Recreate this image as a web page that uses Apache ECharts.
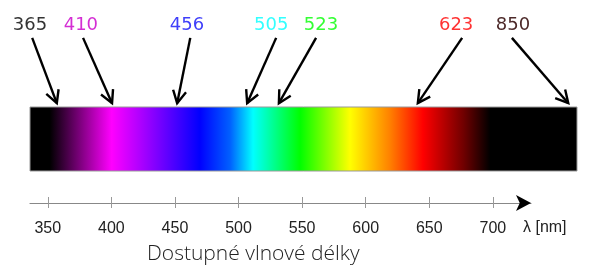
<!DOCTYPE html>
<html>
<head>
<meta charset="utf-8">
<script src="https://cdn.jsdelivr.net/npm/echarts@6/dist/echarts.min.js"></script>
<style>
html,body{margin:0;padding:0;background:#fff;}
#main{width:589px;height:273px;}
</style>
</head>
<body>
<div id="main"></div>
<script>
// wavelengths pointed at (nm) and their colours
var markerNm = [365, 410, 456, 505, 523, 623, 850];
var markerColor = ['#333333', '#d42ed4', '#3f3ffa', '#33ffff', '#33ff33', '#ff3333', '#4d2a2a'];
// positions along the strip, 0..100
var markerTip = [4.9, 15.0, 26.9, 39.7, 45.5, 70.9, 98.4];
var markerStart = [0.4, 9.7, 29.3, 45.0, 52.3, 79.0, 88.1];
var markerLabel = [0, 9.3, 28.7, 44.1, 53.2, 77.9, 88.3];

// spectrum colour stops along the strip
var spectrumPos = [0, 0.037, 0.150, 0.201, 0.311, 0.366, 0.408, 0.494, 0.585, 0.658, 0.718, 0.792, 0.841, 1];
var spectrumColor = ['#000000', '#000000', '#ff00ff', '#b000ff', '#0000ff', '#0060ff', '#00ffff', '#00ff00', '#ffff00', '#ff8000', '#ff0000', '#700000', '#000000', '#000000'];

// bottom axis
var axisTicks = [350, 400, 450, 500, 550, 600, 650, 700];
var axisMin = 336, axisMax = 730;

var chart = echarts.init(document.getElementById('main'));

var stops = spectrumPos.map(function (p, i) {
	return {offset: p, color: spectrumColor[i]};
});

var markerData = markerNm.map(function (nm, i) {
	return [markerTip[i], markerStart[i], markerLabel[i], nm, i];
});

function arrowItem(params, api) {
	var tip = api.coord([api.value(0), 1.06]);
	var start = api.coord([api.value(1), 2.08]);
	var lab = api.coord([api.value(2), 2.28]);
	var dx = tip[0] - start[0], dy = tip[1] - start[1];
	var len = Math.sqrt(dx * dx + dy * dy);
	var ux = dx / len, uy = dy / len;
	var head = 14, ang = 28 * Math.PI / 180;
	function wing(s) {
		var c = Math.cos(s * ang), sn = Math.sin(s * ang);
		var rx = ux * c - uy * sn, ry = ux * sn + uy * c;
		return [tip[0] - rx * head, tip[1] - ry * head];
	}
	var idx = api.value(4);
	return {
		type: 'group',
		children: [
			{type: 'line', shape: {x1: start[0], y1: start[1], x2: tip[0], y2: tip[1]},
				style: {stroke: '#000', lineWidth: 2.4}},
			{type: 'polyline', shape: {points: [wing(1), tip, wing(-1)]},
				style: {stroke: '#000', lineWidth: 2.4, fill: null}},
			{type: 'text', x: lab[0], y: lab[1],
				style: {text: String(api.value(3)), fill: markerColor[idx], font: '18px "DejaVu Sans"',
					align: 'center', verticalAlign: 'middle'}}
		]
	};
}

var option = {
	animation: false,
	title: {
		text: 'Dostupné vlnové délky',
		left: 142,
		top: 239,
		textStyle: {fontFamily: 'Open Sans', fontWeight: 300, fontSize: 21, color: '#222'}
	},
	grid: [
		{left: 30, right: 12, top: 107, height: 64},
		{left: 30, width: 501, top: 170, height: 33}
	],
	xAxis: [
		{gridIndex: 0, type: 'value', min: 0, max: 100, show: false},
		{gridIndex: 1, type: 'value', position: 'bottom', min: axisMin, max: axisMax,
			axisLine: {show: true, lineStyle: {color: '#888', width: 1.2}},
			axisTick: {show: true, customValues: axisTicks, length: 5, lineStyle: {color: '#999'}},
			axisLabel: {customValues: axisTicks, margin: 18, fontSize: 16,
				fontFamily: 'Liberation Sans', color: '#222'},
			splitLine: {show: false},
			name: 'λ [nm]', nameLocation: 'end', nameGap: -8,
			nameTextStyle: {fontSize: 16, fontFamily: 'Liberation Sans', color: '#222',
				align: 'left', verticalAlign: 'top', padding: [17, 0, 0, 0]}
		},
		{gridIndex: 1, type: 'value', position: 'bottom', min: axisMin, max: axisMax,
			axisLine: {show: true, symbol: ['none', 'arrow'], symbolSize: [12, 15],
				lineStyle: {color: '#000', width: 0}},
			axisTick: {show: true, inside: true, customValues: axisTicks, length: 6, lineStyle: {color: '#999'}},
			axisLabel: {show: false},
			splitLine: {show: false}
		}
	],
	yAxis: [
		{gridIndex: 0, type: 'value', min: 0, max: 1, show: false},
		{gridIndex: 1, type: 'value', min: 0, max: 1, show: false}
	],
	series: [
		{
			type: 'custom',
			xAxisIndex: 0, yAxisIndex: 0,
			data: [[0, 100]],
			renderItem: function (params, api) {
				var a = api.coord([api.value(0), 1]);
				var b = api.coord([api.value(1), 0]);
				return {
					type: 'rect',
					shape: {x: a[0], y: a[1], width: b[0] - a[0], height: b[1] - a[1]},
					style: {
						fill: new echarts.graphic.LinearGradient(0, 0, 1, 0, stops),
						stroke: '#999', lineWidth: 1
					}
				};
			}
		},
		{
			type: 'custom',
			xAxisIndex: 0, yAxisIndex: 0,
			clip: false,
			data: markerData,
			renderItem: arrowItem
		}
	]
};
chart.setOption(option);
</script>
</body>
</html>
